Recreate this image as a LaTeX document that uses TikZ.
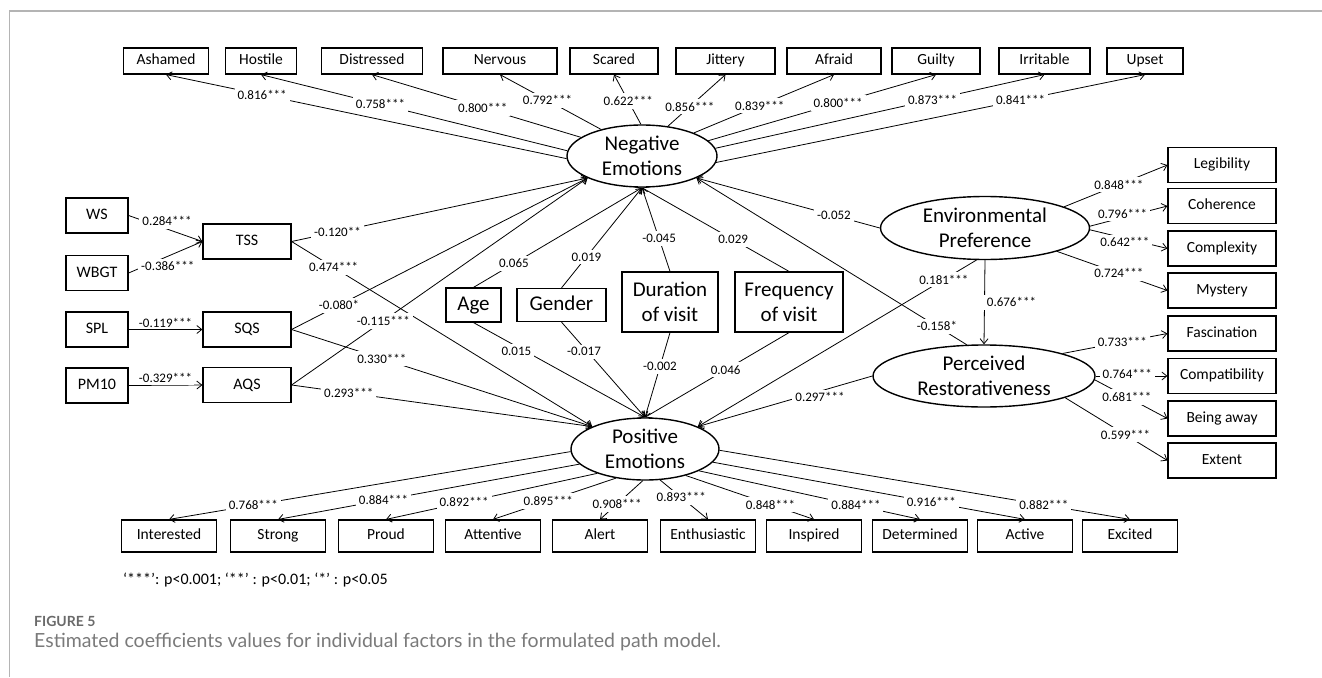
\documentclass[tikz,border=0pt]{standalone}
\usepackage{fontspec}
\setmainfont{Carlito}
\newfontfamily\capfont{Lato}
\usetikzlibrary{arrows.meta,shapes.geometric}
\definecolor{framegray}{HTML}{B4B4B4}
\definecolor{capgray}{HTML}{6A6A6A}
\definecolor{capgraylt}{HTML}{7A7A7A}
\begin{document}
\begin{tikzpicture}[x=1bp,y=-1bp,
  box/.style={draw, line width=1.2bp, inner sep=0pt, align=center},
  onel/.style={text height=11bp, text depth=3.5bp},
  ind/.style={box, onel, minimum height=26bp, minimum width=#1, font=\fontsize{15.5bp}{18bp}\selectfont},
  indr/.style={box, onel, minimum height=35bp, minimum width=108bp, font=\fontsize{15.5bp}{18bp}\selectfont},
  indb/.style={box, onel, minimum height=32bp, minimum width=95bp, font=\fontsize{15.5bp}{18bp}\selectfont},
  srcbox/.style={box, text height=11.5bp, text depth=3.5bp, minimum height=35bp, minimum width=62bp, font=\fontsize{16bp}{19bp}\selectfont},
  midbox/.style={box, text height=11.5bp, text depth=3.5bp, minimum height=35bp, minimum width=88bp, font=\fontsize{16bp}{19bp}\selectfont},
  covbox/.style={box, font=\fontsize{21bp}{25bp}\selectfont},
  lat/.style={draw, ellipse, line width=1.4bp, inner xsep=0pt, inner ysep=-8bp, align=center, font=\fontsize{21bp}{25bp}\selectfont},
  con/.style={line width=0.8bp, -{Straight Barb[length=5bp,width=8bp,line width=0.8bp]}},
  lbl/.style={fill=white, inner sep=3bp, font=\fontsize{13bp}{15bp}\selectfont},
]
\useasboundingbox (0,0) rectangle (1322,677);
\draw[framegray, line width=1.3bp] (1322,11) -- (9.5,11) -- (9.5,677);

% top indicators
\node[ind=85bp] (ashamed) at (166,61) {Ashamed};
\node[ind=71bp] (hostile) at (261,61) {Hostile};
\node[ind=101bp] (distressed) at (372,61) {Distressed};
\node[ind=114bp] (nervous) at (500,61) {Nervous};
\node[ind=88bp] (scared) at (614,61) {Scared};
\node[ind=99bp] (jittery) at (725.5,61) {Jittery};
\node[ind=94bp] (afraid) at (834,61) {Afraid};
\node[ind=88bp] (guilty) at (936,61) {Guilty};
\node[ind=91bp] (irritable) at (1044.5,61) {Irritable};
\node[ind=76bp] (upset) at (1145,61) {Upset};

% latent
\node[lat, minimum width=150bp, minimum height=62bp] (ne) at (642,156) {Negative\\Emotions};
\node[lat, minimum width=148bp, minimum height=62bp] (pe) at (645,449) {Positive\\Emotions};
\node[lat, minimum width=209bp, minimum height=63bp] (ep) at (985,228) {Environmental\\Preference};
\node[lat, minimum width=222bp, minimum height=62bp] (pr) at (984,376) {Perceived\\Restorativeness};

% left
\node[srcbox] (ws) at (97,215.5) {WS};
\node[srcbox] (wbgt) at (97,273) {WBGT};
\node[srcbox] (spl) at (97,329.5) {SPL};
\node[srcbox] (pm) at (97,385.5) {PM10};
\node[midbox] (tss) at (247,241.5) {TSS};
\node[midbox] (sqs) at (247,329.5) {SQS};
\node[midbox] (aqs) at (247,385) {AQS};

% covariates
\node[covbox, text height=15bp, text depth=4.5bp, minimum width=55bp, minimum height=34bp] (age) at (473.5,305) {Age};
\node[covbox, text height=15bp, text depth=4.5bp, minimum width=89bp, minimum height=33bp] (gender) at (561.5,305) {Gender};
\node[covbox, minimum width=96bp, minimum height=60bp] (dur) at (670,302) {Duration\\of visit};
\node[covbox, minimum width=108bp, minimum height=60bp] (freq) at (789,302) {Frequency\\of visit};

% right indicators
\node[indr] (leg) at (1222,165) {Legibility};
\node[indr] (coh) at (1222,206) {Coherence};
\node[indr] (cpx) at (1222,248.5) {Complexity};
\node[indr] (mys) at (1222,290.5) {Mystery};
\node[indr] (fas) at (1222,333.5) {Fascination};
\node[indr] (com) at (1222,376) {Compatibility};
\node[indr] (baw) at (1222,418.5) {Being away};
\node[indr] (ext) at (1222,460.5) {Extent};

% bottom indicators
\node[indb] (interested) at (169,536) {Interested};
\node[indb] (strong) at (278,536) {Strong};
\node[indb] (proud) at (386,536) {Proud};
\node[indb] (attentive) at (493,536) {Attentive};
\node[indb] (alert) at (600,536) {Alert};
\node[indb] (enth) at (708,536) {Enthusiastic};
\node[indb] (inspired) at (814,536) {Inspired};
\node[indb] (determined) at (920,536) {Determined};
\node[indb] (active) at (1025,536) {Active};
\node[indb] (excited) at (1130,536) {Excited};

% NE loadings
\draw[con] (ne.182) -- node[lbl,pos=0.76] {0.816***} (ashamed.south);
\draw[con] (ne.176) -- node[lbl,pos=0.61] {0.758***} (hostile.south);
\draw[con] (ne.163) -- node[lbl,pos=0.47] {0.800***} (distressed.south);
\draw[con] (ne.147) -- node[lbl,pos=0.53] {0.792***} (nervous.south);
\draw[con] (ne.92) -- node[lbl,pos=0.47] {0.622***} (scared.south);
\draw[con] (ne.49) -- node[lbl,pos=0.38] {0.856***} (jittery.south);
\draw[con] (ne.24) -- node[lbl,pos=0.47] {0.839***} (afraid.south);
\draw[con] (ne.13) -- node[lbl,pos=0.57] {0.800***} (guilty.south);
\draw[con] (ne.6) -- node[lbl,pos=0.66] {0.873***} (irritable.south);
\draw[con] (ne.355) -- node[lbl,pos=0.71] {0.841***} (upset.south);

% PE loadings
\draw[con] (pe.182) -- node[lbl,pos=0.79] {0.768***} (interested.north);
\draw[con] (pe.193) -- node[lbl,pos=0.65] {0.884***} (strong.north);
\draw[con] (pe.207) -- node[lbl,pos=0.63] {0.892***} (proud.north);
\draw[con] (pe.225) -- node[lbl,pos=0.55] {0.895***} (attentive.north);
\draw[con] (pe.266) -- node[lbl,pos=0.6] {0.908***} (alert.north);
\draw[con] (pe.296) -- node[lbl,pos=0.44] {0.893***} (enth.north);
\draw[con] (pe.327) -- node[lbl,pos=0.66] {0.848***} (inspired.north);
\draw[con] (pe.338) -- node[lbl,pos=0.71] {0.884***} (determined.north);
\draw[con] (pe.349) -- node[lbl,pos=0.70] {0.916***} (active.north);
\draw[con] (pe.359) -- node[lbl,pos=0.79] {0.882***} (excited.north);

% EP / PR loadings
\draw[con] (ep.15) -- node[lbl,pos=0.53] {0.848***} (leg.west);
\draw[con] (ep.1) -- node[lbl,pos=0.42,yshift=4bp] {0.796***} (coh.west);
\draw[con] (ep.359) -- node[lbl,pos=0.45,yshift=-4bp] {0.642***} (cpx.west);
\draw[con] (ep.342) -- node[lbl,pos=0.56] {0.724***} (mys.west);
\draw[con] (pr.16) -- node[lbl,pos=0.57] {0.733***} (fas.west);
\draw[con] (pr.0) -- node[lbl,pos=0.44,yshift=2bp] {0.764***} (com.west);
\draw[con] (pr.358) -- node[lbl,pos=0.44] {0.681***} (baw.west);
\draw[con] (pr.345) -- node[lbl,pos=0.59] {0.599***} (ext.west);

% exogenous
\draw[con] (ws.east) -- node[lbl,pos=0.52,yshift=8bp] {0.284***} (tss.west);
\draw[con] (wbgt.east) -- node[lbl,pos=0.53,yshift=-10bp] {-0.386***} (tss.west);
\draw[con] (spl.east) -- node[lbl,pos=0.5,anchor=south,inner sep=2bp] {-0.119***} (sqs.west);
\draw[con] (pm.east) -- node[lbl,pos=0.5,anchor=south,inner sep=2bp] {-0.329***} (aqs.west);

\draw[con] (tss.east) -- node[lbl,pos=0.14] {0.474***} (pe.157);
\draw[con] (sqs.east) -- node[lbl,pos=0.30] {0.330***} (pe.157);
\draw[con] (aqs.east) -- node[lbl,pos=0.19] {0.293***} (pe.157);
\draw[con] (tss.east) -- node[lbl,pos=0.155] {-0.120**} (ne.202);
\draw[con] (sqs.east) -- node[lbl,pos=0.16] {-0.080*} (ne.202);
\draw[con] (aqs.east) -- node[lbl,pos=0.31] {-0.115***} (ne.202);

% covariates
\draw[con] (age.north) -- node[lbl,pos=0.24] {0.065} (ne.270);
\draw[con] (gender.north) -- node[lbl,pos=0.31] {0.019} (ne.270);
\draw[con] (dur.north) -- node[lbl,pos=0.39] {-0.045} (ne.270);
\draw[con] (freq.north) -- node[lbl,pos=0.38] {0.029} (ne.270);
\draw[con] (age.south) -- node[lbl,pos=0.25,yshift=-5bp] {0.015} (pe.90);
\draw[con] (gender.south) -- node[lbl,pos=0.27,yshift=-4bp] {-0.017} (pe.90);
\draw[con] (dur.south) -- node[lbl,pos=0.4] {-0.002} (pe.90);
\draw[con] (freq.south) -- node[lbl,pos=0.44] {0.046} (pe.90);

% structural
\draw[con] (ep.180) -- node[lbl,pos=0.25] {-0.052} (ne.338);
\draw[con] (pr.119) -- node[lbl,pos=0.11] {-0.158*} (ne.338);
\draw[con] (ep.255) -- node[lbl,pos=0.117] {0.181***} (pe.23);
\draw[con] (pr.180) -- node[lbl,pos=0.3,yshift=-6bp] {0.297***} (pe.23);
\draw[con] (ep.south) -- node[lbl,pos=0.5,anchor=west,xshift=-3bp,inner xsep=5bp] {0.676***} (pr.north);

% notes
\node[anchor=west, inner sep=0pt, font=\fontsize{16bp}{19bp}\selectfont] (note) at (123,580) {‘***’: p<0.001; ‘**’ : p<0.01; ‘*’ : p<0.05};
\node[anchor=west, inner sep=0pt, text=capgray, font=\capfont\bfseries\fontsize{14bp}{16bp}\selectfont] (figlab) at (34,621) {FIGURE 5};
\node[anchor=west, inner sep=0pt, text=capgraylt, font=\capfont\fontsize{19.5bp}{22bp}\selectfont] (caption) at (34,642) {Estimated coefficients values for individual factors in the formulated path model.};
\end{tikzpicture}
\end{document}
